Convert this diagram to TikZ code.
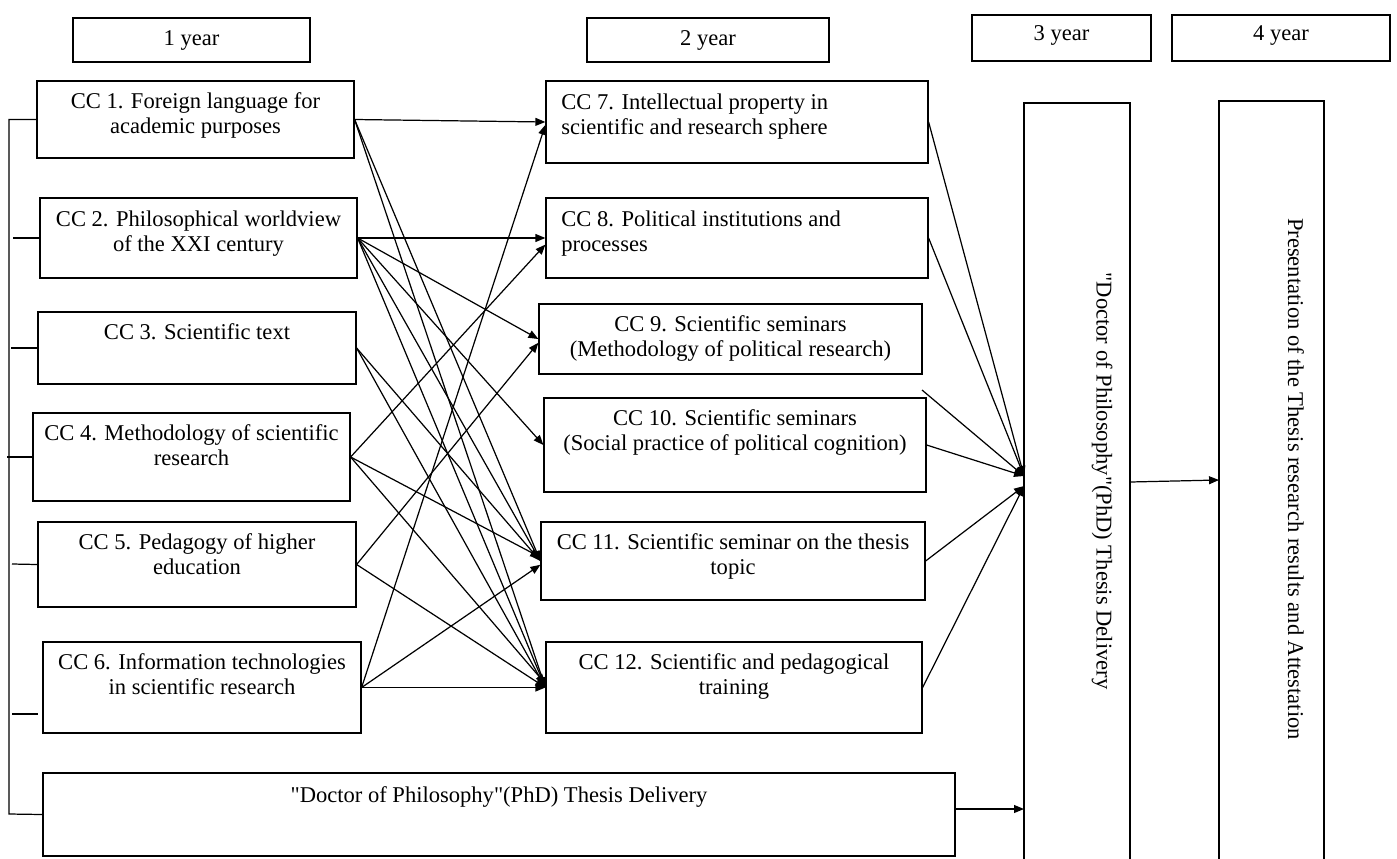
\documentclass[tikz,border=0pt]{standalone}
\usepackage{fontspec}
\setmainfont{Liberation Serif}[Ligatures=TeXOff]
\usetikzlibrary{arrows.meta,fit,calc}
\begin{document}
\begin{tikzpicture}[x=0.532pt,y=-0.532pt,
  box/.style={draw, line width=0.65pt, inner sep=0pt},
  txt/.style={inner sep=0pt, align=center, font=\fontsize{12}{13.3}\selectfont},
  ltxt/.style={inner sep=0pt, align=left, font=\fontsize{12}{13.3}\selectfont},
  arr/.style={line width=0.65pt, -{Triangle[length=5.3pt,width=4.2pt]}},
  ln/.style={line width=0.65pt},
]
\path[use as bounding box, clip] (0,0) rectangle (1397,858);
\fill[white] (0,0) rectangle (1397,858);

% year boxes
\node[box, fit={(73,18) (310,62)}] (y1) {};
\node[box, fit={(587,18) (829,62)}] (y2) {};
\node[box, fit={(972,15) (1151,61)}] (y3) {};
\node[box, fit={(1172,15) (1390,61)}] (y4) {};
\node[txt, anchor=base] at ($(y1.north)+(0,28)$) {1 year};
\node[txt, anchor=base] at ($(y2.north)+(0,28)$) {2 year};
\node[txt, anchor=base] at ($(y3.north)+(0,26)$) {3 year};
\node[txt, anchor=base] at ($(y4.north)+(0,26)$) {4 year};

% first-year boxes
\node[box, fit={(37,81) (354,158)}] (cc1) {};
\node[box, fit={(40,198) (357,278)}] (cc2) {};
\node[box, fit={(38,312) (356,384)}] (cc3) {};
\node[box, fit={(33,413) (350,501)}] (cc4) {};
\node[box, fit={(38,522) (356,607)}] (cc5) {};
\node[box, fit={(43,642) (361,733)}] (cc6) {};
\node[box, fit={(43,773) (955,856)}] (th) {};
\node[txt, anchor=north] at ($(cc1.north)+(0,12)$) {CC 1. Foreign language for\\academic purposes};
\node[txt, anchor=north] at ($(cc2.north)+(0,13)$) {CC 2. Philosophical worldview\\of the XXI century};
\node[txt, anchor=north] at ($(cc3.north)+(0,12)$) {CC 3. Scientific text};
\node[txt, anchor=north] at ($(cc4.north)+(0,12)$) {CC 4. Methodology of scientific\\research};
\node[txt, anchor=north] at ($(cc5.north)+(0,12)$) {CC 5. Pedagogy of higher\\education};
\node[txt, anchor=north] at ($(cc6.north)+(0,12)$) {CC 6. Information technologies\\in scientific research};
\node[txt, anchor=north] at ($(th.north)+(0,14)$) {"Doctor of Philosophy"(PhD) Thesis Delivery};

% second-year boxes
\node[box, fit={(546,81) (928,163)}] (cc7) {};
\node[box, fit={(546,198) (928,278)}] (cc8) {};
\node[box, fit={(539,304) (922,374)}] (cc9) {};
\node[box, fit={(544,398) (926,492)}] (cc10) {};
\node[box, fit={(541,522) (925,600)}] (cc11) {};
\node[box, fit={(546,642) (922,733)}] (cc12) {};
\node[ltxt, anchor=north west] at (561,93) {CC 7. Intellectual property in\\scientific and research sphere};
\node[ltxt, anchor=north west] at (561,210) {CC 8. Political institutions and\\processes};
\node[txt, anchor=north] at ($(cc9.north)+(0,12)$) {CC 9. Scientific seminars\\(Methodology of political research)};
\node[txt, anchor=north] at ($(cc10.north)+(0,12)$) {CC 10. Scientific seminars\\(Social practice of political cognition)};
\node[txt, anchor=north] at ($(cc11.north)+(0,12)$) {CC 11. Scientific seminar on the thesis\\topic};
\node[txt, anchor=north] at ($(cc12.north)+(0,12)$) {CC 12. Scientific and pedagogical\\training};

% tall boxes
\node[box, fit={(1024,103) (1130,900)}] (phd) {};
\node[box, fit={(1219,101) (1324,900)}] (pres) {};
\node[txt, rotate=-90] at (1102,481) {"Doctor of Philosophy"(PhD) Thesis Delivery};
\node[txt, rotate=-90] at (1296,479) {Presentation of the Thesis research results and Attestation};

% left bracket
\coordinate (k2) at (13,238);
\coordinate (k3) at (11,348);
\coordinate (k4) at (7,457);
\coordinate (k5) at (12,564);
\coordinate (k6a) at (12,714);
\coordinate (k6b) at (38,714);
\draw[ln] (cc1.west) -| (9,814) -- (th.west);
\draw[ln] (k2) -- (cc2.west);
\draw[ln] (k3) -- (cc3.west);
\draw[ln] (k4) -- (cc4.west);
\draw[ln] (k5) -- (cc5.west);
\draw[ln] (k6a) -- (k6b);

% first year -> second year
\draw[arr] (cc1.east) -- (cc7.west);
\draw[arr] (cc1.east) -- (cc11.west);
\draw[arr] (cc1.east) -- (cc12.west);
\draw[arr] (cc2.east) -- (cc8.west);
\draw[arr] (cc2.east) -- (cc9.west);
\draw[arr] (cc2.east) -- (cc10.west);
\draw[arr] (cc2.east) -- (cc11.west);
\draw[arr] (cc2.east) -- (cc12.west);
\draw[arr] (cc3.east) -- (cc11.west);
\draw[arr] (cc3.east) -- (cc12.west);
\draw[arr] (cc4.east) -- ([yshift=-3.5pt]cc8.west);
\draw[arr] (cc4.east) -- ([yshift=2pt]cc11.west);
\draw[arr] (cc4.east) -- ([yshift=2pt]cc12.west);
\draw[arr] (cc5.east) -- ([yshift=-2pt]cc9.west);
\draw[arr] (cc5.east) -- (cc12.west);
\draw[arr] (cc6.east) -- ([yshift=-1.5pt]cc7.west);
\draw[arr] (cc6.east) -- ([yshift=-2pt]cc11.west);
\draw[arr] (cc6.east) -- (cc12.west);

% second year -> third year
\coordinate (p1) at (1024,476);
\coordinate (p2) at (1024,486);
\coordinate (c9out) at (922,390);
\draw[arr] (cc7.east) -- (p1);
\draw[arr] (cc8.east) -- (p1);
\draw[arr] (c9out) -- (p1);
\draw[arr] (cc10.east) -- (p1);
\draw[arr] (cc11.east) -- (p2);
\draw[arr] (cc12.east) -- (p2);
\coordinate (thout) at (955,809);
\coordinate (phdin) at (1024,809);
\draw[arr] (thout) -- (phdin);
\coordinate (phdout) at (1130,482);
\coordinate (presin) at (1219,480);
\draw[arr] (phdout) -- (presin);
\end{tikzpicture}
\end{document}
